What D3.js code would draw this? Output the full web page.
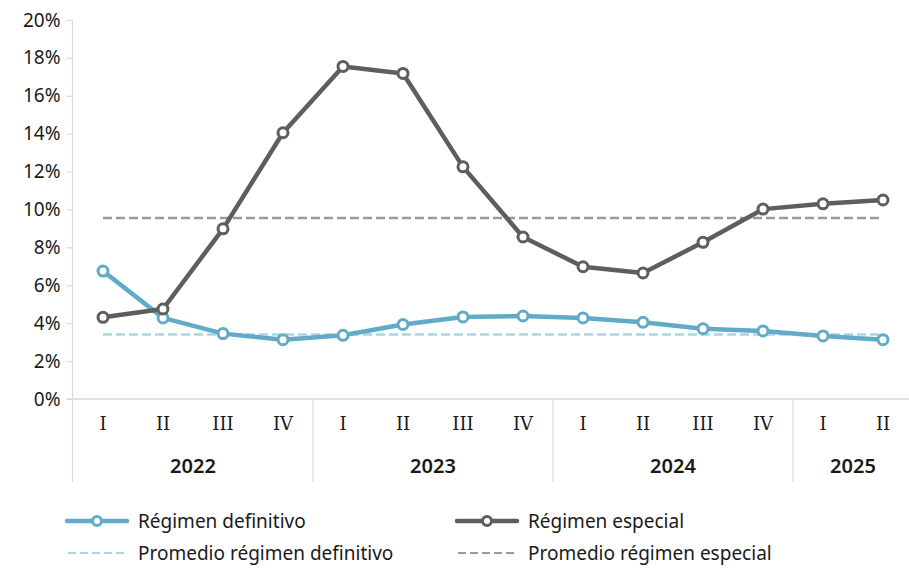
<!DOCTYPE html>
<html>
<head>
<meta charset="utf-8">
<script src="https://cdn.jsdelivr.net/npm/d3@7"></script>
<style>
  body { margin: 0; background: #fff; }
  svg { display: block; }
  text { font-family: "Noto Sans", "Open Sans", sans-serif; fill: #1a1a1a; }
</style>
</head>
<body>
<div id="chart"></div>
<script>
// quarters and years
const quarters = ["I","II","III","IV","I","II","III","IV","I","II","III","IV","I","II"];
const years = [
  { year: "2022", n: 4 },
  { year: "2023", n: 4 },
  { year: "2024", n: 4 },
  { year: "2025", n: 2 }
];

// series (%)
const definitivo = [6.75, 4.28, 3.45, 3.13, 3.36, 3.93, 4.33, 4.38, 4.28, 4.05, 3.71, 3.59, 3.33, 3.13];
const especial = [4.31, 4.75, 8.98, 14.05, 17.55, 17.18, 12.25, 8.55, 6.98, 6.65, 8.27, 10.02, 10.3, 10.5];
const promDefinitivo = 3.4;
const promEspecial = 9.55;

const yTicks = [0, 2, 4, 6, 8, 10, 12, 14, 16, 18, 20];

const width = 909, height = 569;
const margin = { left: 73, top: 20, plotBottom: 399, axisBottom: 482 };

const svg = d3.select('#chart').append('svg')
  .attr('width', width)
  .attr('height', height);

const idx = d3.range(quarters.length);
const x = d3.scaleBand().domain(idx).range([margin.left, margin.left + 60 * quarters.length]);
const cx = i => x(i) + x.bandwidth() / 2;
const y = d3.scaleLinear().domain([0, 20]).range([margin.plotBottom, margin.top]);

const gridColor = "#d9d9d9";

// y axis
const yAxis = svg.append('g')
  .attr('transform', `translate(${margin.left - 0.5},0)`)
  .call(d3.axisLeft(y).tickValues(yTicks).tickSize(6).tickPadding(6).tickFormat(d => d + "%"));
yAxis.select('.domain').remove();
yAxis.selectAll('line').attr('stroke', gridColor).attr('stroke-width', 1.2);
yAxis.selectAll('text').style('font-size', '19px').attr('fill', '#1a1a1a');

// axis lines
svg.append('line')
  .attr('x1', margin.left - 0.5).attr('x2', margin.left - 0.5)
  .attr('y1', margin.top).attr('y2', margin.axisBottom)
  .attr('stroke', gridColor).attr('stroke-width', 1.2);
svg.append('line')
  .attr('x1', margin.left - 6).attr('x2', width)
  .attr('y1', y(0)).attr('y2', y(0))
  .attr('stroke', gridColor).attr('stroke-width', 1.5);

// year separators and labels
let start = 0;
years.forEach((yr, k) => {
  const x0 = x(start);
  const x1 = x(start + yr.n - 1) + x.bandwidth();
  if (k > 0) {
    svg.append('line')
      .attr('x1', x0).attr('x2', x0)
      .attr('y1', y(0)).attr('y2', margin.axisBottom)
      .attr('stroke', gridColor).attr('stroke-width', 1.2);
  }
  svg.append('text')
    .attr('x', (x0 + x1) / 2).attr('y', 473)
    .attr('text-anchor', 'middle')
    .style('font-size', '20px').style('font-weight', 600)
    .text(yr.year);
  start += yr.n;
});

// quarter labels
svg.append('g').selectAll('text')
  .data(quarters)
  .enter().append('text')
  .attr('x', (d, i) => cx(i))
  .attr('y', 430)
  .attr('text-anchor', 'middle')
  .style('font-family', '"DejaVu Serif", serif')
  .style('font-size', '18px')
  .text(d => d);

// averages
function avgLine(v, color) {
  svg.append('line')
    .attr('x1', cx(0)).attr('x2', cx(quarters.length - 1))
    .attr('y1', y(v)).attr('y2', y(v))
    .attr('stroke', color).attr('stroke-width', 2.5)
    .attr('stroke-dasharray', '9,4');
}
avgLine(promEspecial, "#9a9a9a");
avgLine(promDefinitivo, "#a9d6e3");

// series
const line = d3.line().x((d, i) => cx(i)).y(d => y(d));
function series(data, color, w) {
  svg.append('path')
    .datum(data)
    .attr('fill', 'none')
    .attr('stroke', color)
    .attr('stroke-width', w)
    .attr('stroke-linejoin', 'round')
    .attr('d', line);
  svg.append('g').selectAll('circle')
    .data(data)
    .enter().append('circle')
    .attr('cx', (d, i) => cx(i))
    .attr('cy', d => y(d))
    .attr('r', 5)
    .attr('fill', '#fff')
    .attr('stroke', color)
    .attr('stroke-width', 3);
}
series(definitivo, "#62abc8", 4.5);
series(especial, "#5e5e5e", 4.5);

// legend
const legend = [
  { label: "Régimen definitivo", color: "#62abc8", x: 67, y: 521, marker: true },
  { label: "Régimen especial", color: "#5e5e5e", x: 457, y: 521, marker: true },
  { label: "Promedio régimen definitivo", color: "#a9d6e3", x: 67, y: 553, marker: false },
  { label: "Promedio régimen especial", color: "#9a9a9a", x: 457, y: 553, marker: false }
];
legend.forEach(l => {
  const g = svg.append('g');
  if (l.marker) {
    g.append('line')
      .attr('x1', l.x).attr('x2', l.x + 60)
      .attr('y1', l.y).attr('y2', l.y)
      .attr('stroke', l.color).attr('stroke-width', 4.5).attr('stroke-linecap', 'round');
    g.append('circle')
      .attr('cx', l.x + 30).attr('cy', l.y).attr('r', 4.5)
      .attr('fill', '#fff').attr('stroke', l.color).attr('stroke-width', 3);
  } else {
    g.append('line')
      .attr('x1', l.x + 1).attr('x2', l.x + 60)
      .attr('y1', l.y).attr('y2', l.y)
      .attr('stroke', l.color).attr('stroke-width', 2).attr('stroke-dasharray', '8,4');
  }
  g.append('text')
    .attr('x', l.x + 71)
    .attr('y', l.y)
    .attr('dy', '0.35em')
    .style('font-size', '19px')
    .text(l.label);
});
</script>
</body>
</html>
